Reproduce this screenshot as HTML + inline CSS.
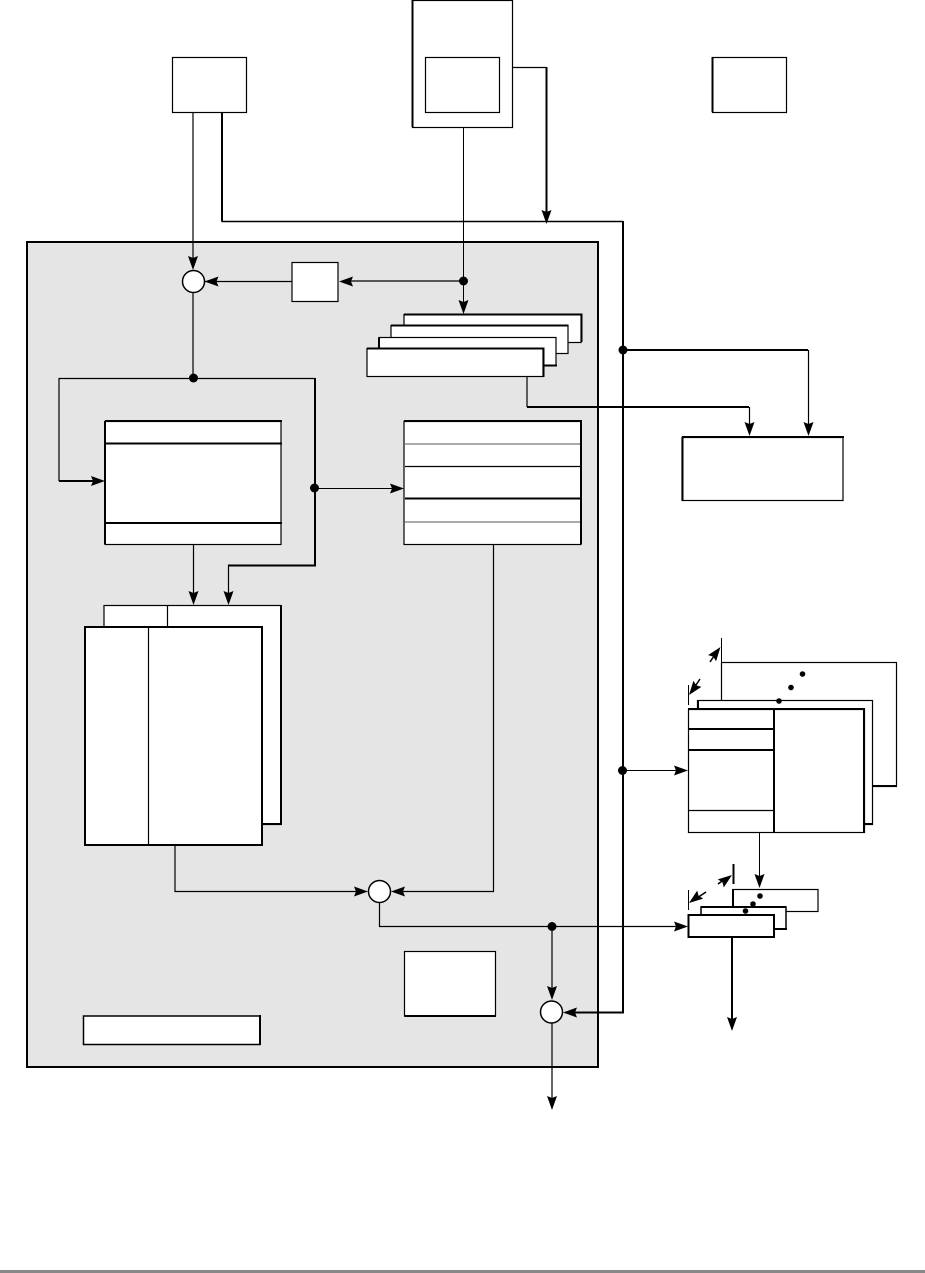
<!DOCTYPE html>
<html><head><meta charset="utf-8"><style>html,body{margin:0;padding:0;background:#fff}svg{display:block}</style></head>
<body>
<svg width="925" height="1273" viewBox="0 0 925 1273" xmlns="http://www.w3.org/2000/svg">
<defs>
<path id="a" d="M0 0L-5-14L0-12L5-14Z" fill="#000"/>
</defs>
<rect x="0" y="0" width="925" height="1273" fill="#fff"/>
<rect x="0" y="1270" width="925" height="3" fill="#888"/>

<!-- main panel -->
<rect x="27" y="242" width="571" height="825" fill="#e5e5e5" stroke="#000" stroke-width="2"/>

<g fill="#fff" stroke="#000" stroke-width="1.200">
<!-- top boxes -->
<rect x="172.500" y="57.500" width="74" height="55"/>
<rect x="412.500" y="0.500" width="100" height="127"/>
<path d="M412.500 0V127" stroke-width="2" fill="none"/>
<rect x="425.500" y="57.500" width="74" height="55"/>
<rect x="712.500" y="57.500" width="74" height="55"/>
<path d="M712.500 57V112" stroke-width="2" fill="none"/>
<!-- small box -->
<rect x="292" y="262.500" width="46" height="39"/>
<!-- stack -->
<rect x="404" y="314.500" width="177" height="28"/>
<path d="M404 314.500H581.500V342" stroke-width="2" fill="none"/>
<rect x="391" y="325.500" width="177" height="28"/>
<path d="M391 325.500H568.500" stroke-width="2" fill="none"/>
<rect x="379" y="337.500" width="177" height="28"/>
<path d="M379 348V337.500" stroke-width="2" fill="none"/>
<path d="M544 365.500H557" stroke-width="2" fill="none"/>
<rect x="367" y="348.500" width="176" height="28"/>
<path d="M367 348.500H543.500V377" stroke-width="2" fill="none"/>
<!-- right box -->
<rect x="682" y="437.500" width="161" height="63"/>
<path d="M682 437H844M682.500 437V500" stroke-width="2" fill="none"/>
<!-- register left -->
<rect x="105" y="421.500" width="176" height="123"/>
<path d="M105 421H282M105 443.500H282M105 523H282M105 421V544" stroke-width="2" fill="none"/>
<!-- register right -->
<rect x="404" y="421.500" width="177" height="123"/>
<path d="M404 421H582M581 421V544" stroke-width="2" fill="none"/>
<path d="M405 444H580M405 522H580" stroke="#aaa" stroke-width="2" fill="none"/>
<path d="M405 466.500H580" fill="none"/>
<path d="M405 498.500H580" stroke-width="2" fill="none"/>
<!-- back table -->
<rect x="104" y="605.500" width="177" height="219"/>
<path d="M281 605V825M262 824H282" stroke-width="2" fill="none"/>
<path d="M167.500 605V627" fill="none"/>
<!-- front table -->
<rect x="85" y="627" width="177" height="218" stroke-width="2"/>
<path d="M148.500 627V845" fill="none"/>
<!-- lower boxes -->
<rect x="404.500" y="951.500" width="91" height="64.500"/>
<path d="M404.500 1016H496" stroke-width="2" fill="none"/>
<rect x="83.500" y="1016" width="176.500" height="28.500" stroke-width="1.500"/>
<path d="M260 1015V1045" stroke-width="2" fill="none"/>

<!-- right cache stack -->
<rect x="721.500" y="662.500" width="175" height="124"/>
<path d="M872 786H897" stroke-width="2" fill="none"/>
<rect x="697.500" y="700.500" width="175" height="124"/>
<path d="M698 700V709M864 824H873" stroke-width="2" fill="none"/>
<rect x="688.500" y="709.500" width="176" height="123"/>
<path d="M688 709H865M864 709V832M774 709V832M688 729H774M688 750H774" stroke-width="2" fill="none"/>
<path d="M688 810.500H774" fill="none"/>

<!-- bottom right stack -->
<rect x="733" y="889.500" width="85" height="22"/>
<path d="M733 889V908" stroke-width="2" fill="none"/>
<rect x="701" y="907" width="85" height="22" stroke-width="1.500"/>
<path d="M701 907H786M774 929H787" stroke-width="2" fill="none"/>
<rect x="688.500" y="915" width="85.500" height="22" stroke-width="2"/>
</g>

<!-- connectors -->
<g fill="none" stroke="#000">
<path d="M193 112V262" stroke-width="1.200"/>
<path d="M222 112V221.500H623" stroke-width="1.500"/>
<path d="M222 112V221" stroke-width="2"/>
<path d="M623 221V1012.500H565" stroke-width="2"/>
<path d="M513 67.500H546" stroke-width="1.200"/>
<path d="M546.500 67V212" stroke-width="2"/>
<path d="M463.500 127V305" stroke-width="1"/>
<path d="M463 281H345M292 281.500H205" stroke-width="1.200"/>
<path d="M193 292V378" stroke-width="1.200"/>
<path d="M59 481V378.500H315" stroke-width="1.200"/>
<path d="M315 378V565.500H228" stroke-width="2"/>
<path d="M228.500 565V596" stroke-width="1.200"/>
<path d="M59 481H95" stroke-width="2"/>
<path d="M315 488.500H394" stroke-width="1"/>
<path d="M193.500 544V595" stroke-width="1.200"/>
<path d="M527 376V407" stroke-width="1.200"/>
<path d="M527 407H749" stroke-width="2"/>
<path d="M749.500 407V425" stroke-width="1.200"/>
<path d="M623 350H808" stroke-width="2"/>
<path d="M808.500 350V425" stroke-width="1.200"/>
<path d="M175 845V891.500H358" stroke-width="1.200"/>
<path d="M493.500 544V891.500H402" stroke-width="1.200"/>
<path d="M379.500 902V926.500H678" stroke-width="1.200"/>
<path d="M552 926V990" stroke-width="1.200"/>
<path d="M552 1023V1100" stroke-width="1.200"/>
<path d="M623 770.500H678" stroke-width="1"/>
<path d="M759.500 832V878" stroke-width="1"/>
<path d="M732 937V1020" stroke-width="2"/>
<!-- dimension ticks -->
<path d="M721.500 638V662M688.500 685V705" stroke-width="1"/>
<path d="M733.500 864V884" stroke-width="2"/>
<path d="M688.500 890V910" stroke-width="1"/>
<path d="M710 662L716 653M700 679L694 688" stroke-width="1.500"/>
<path d="M718 884L725 879M706 892L697 898" stroke-width="1.500"/>
</g>

<!-- circles -->
<g fill="#fff" stroke="#000" stroke-width="1.500">
<circle cx="193.500" cy="281.500" r="11"/>
<circle cx="379.500" cy="891.500" r="11"/>
<circle cx="551.500" cy="1012" r="11"/>
</g>

<!-- dots -->
<g fill="#000">
<circle cx="463.500" cy="281" r="4.500"/>
<circle cx="193.500" cy="378" r="4.500"/>
<circle cx="314.500" cy="488" r="4.500"/>
<circle cx="623" cy="350" r="4.500"/>
<circle cx="622.500" cy="770.500" r="4.500"/>
<circle cx="552" cy="926.500" r="4.500"/>
<circle cx="802.500" cy="674" r="2.800"/>
<circle cx="791" cy="687.500" r="2.800"/>
<circle cx="779" cy="701" r="2.800"/>
<circle cx="760" cy="896" r="2.800"/>
<circle cx="753" cy="904" r="2.800"/>
<circle cx="745.500" cy="911" r="2.800"/>
</g>

<!-- arrowheads -->
<use href="#a" transform="translate(193,270)"/>
<use href="#a" transform="translate(546.500,224)"/>
<use href="#a" transform="translate(463.500,314)"/>
<use href="#a" transform="translate(204.500,281.500) rotate(90)"/>
<use href="#a" transform="translate(339,281.500) rotate(90)"/>
<use href="#a" transform="translate(105,481) rotate(-90)"/>
<use href="#a" transform="translate(404,488.500) rotate(-90)"/>
<use href="#a" transform="translate(193.500,605)"/>
<use href="#a" transform="translate(228.500,605)"/>
<use href="#a" transform="translate(749.500,436)"/>
<use href="#a" transform="translate(808.500,436)"/>
<use href="#a" transform="translate(368,891.500) rotate(-90)"/>
<use href="#a" transform="translate(391,891.500) rotate(90)"/>
<use href="#a" transform="translate(552,1000)"/>
<use href="#a" transform="translate(563,1012.500) rotate(90)"/>
<use href="#a" transform="translate(552,1110)"/>
<use href="#a" transform="translate(688,926.500) rotate(-90)"/>
<use href="#a" transform="translate(688,770.500) rotate(-90)"/>
<use href="#a" transform="translate(759.500,888)"/>
<use href="#a" transform="translate(732,1031)"/>
<use href="#a" transform="translate(720.500,647) rotate(217)"/>
<use href="#a" transform="translate(689,695) rotate(37)"/>
<use href="#a" transform="translate(732,875) rotate(233)"/>
<use href="#a" transform="translate(689,903) rotate(53)"/>
</svg>
</body></html>
